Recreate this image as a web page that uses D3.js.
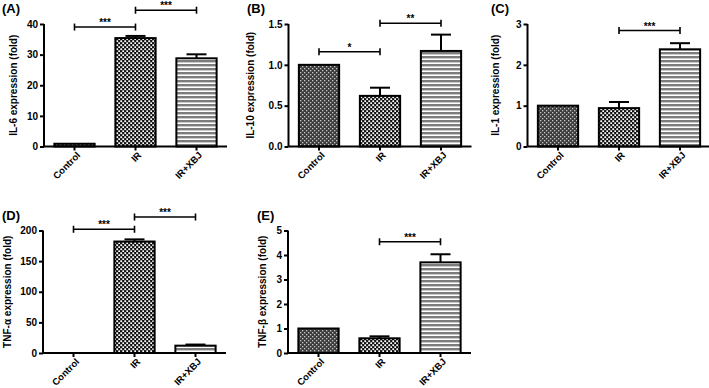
<!DOCTYPE html>
<html>
<head>
<meta charset="utf-8">
<script src="https://cdn.jsdelivr.net/npm/d3@7/dist/d3.min.js"></script>
<style>
  body { margin: 0; background: #fff; }
  text { font-family: "Liberation Sans", Arial, sans-serif; font-weight: bold; fill: #000; }
</style>
</head>
<body>
<script>
(function(){

//chart data
var groups = ["Control", "IR", "IR+XBJ"];
var panelLabels = ["(A)", "(B)", "(C)", "(D)", "(E)"];
var yTitles = ["IL-6 expression (fold)", "IL-10 expression (fold)", "IL-1 expression (fold)",
    "TNF-\u03b1 expression (fold)", "TNF-\u03b2 expression (fold)"];
var yMax = [40, 1.5, 3, 200, 5];
var yTicks = [[0, 10, 20, 30, 40], [0, 0.5, 1.0, 1.5], [0, 1, 2, 3], [0, 50, 100, 150, 200], [0, 1, 2, 3, 4, 5]];
var tickFormats = ["d", ".1f", "d", "d", "d"];
var means = [[0.9, 35.4, 28.8], [1.0, 0.62, 1.17], [1.0, 0.94, 2.38], [0, 182, 12], [1.0, 0.6, 3.7]];
var errs = [[0, 0.7, 1.3], [0, 0.1, 0.2], [0, 0.15, 0.15], [0, 3.5, 1.8], [0, 0.08, 0.33]];
//significance brackets: [from group, to group, height, stars]
var sigs = [
    [[0, 1, 39, "***"], [1, 2, 44.5, "***"]],
    [[0, 1, 1.16, "*"], [1, 2, 1.51, "**"]],
    [[1, 2, 2.84, "***"]],
    [[0, 1, 202, "***"], [1, 2, 222, "***"]],
    [[1, 2, 4.54, "***"]]
];

//layout of the five panels
var layout = [
    {x0: 44, y0: 146.5, lx: 2, ly: 13, tx: -31},
    {x0: 288.5, y0: 146.5, lx: 247, ly: 13, tx: -38},
    {x0: 527.5, y0: 146.5, lx: 491, ly: 13, tx: -32},
    {x0: 43, y0: 353, lx: 2, ly: 220, tx: -36},
    {x0: 288, y0: 353, lx: 257, ly: 220, tx: -26}
];
var plotW = 183, plotH = 122.5;

var svg = d3.select("body").append("svg")
    .attr("width", 709)
    .attr("height", 388);

//fill patterns for the three groups
var defs = svg.append("defs");

var pCtrl = defs.append("pattern").attr("id", "pCtrl")
    .attr("patternUnits", "userSpaceOnUse").attr("width", 4).attr("height", 4);
pCtrl.append("rect").attr("width", 4).attr("height", 4).attr("fill", "#3c3c3c");
pCtrl.append("rect").attr("x", 0).attr("y", 0).attr("width", 1.3).attr("height", 1.3).attr("fill", "#c8c8c8");
pCtrl.append("rect").attr("x", 2).attr("y", 2).attr("width", 1.3).attr("height", 1.3).attr("fill", "#c8c8c8");

var pIR = defs.append("pattern").attr("id", "pIR")
    .attr("patternUnits", "userSpaceOnUse").attr("width", 4).attr("height", 4);
pIR.append("rect").attr("width", 4).attr("height", 4).attr("fill", "#111");
pIR.append("rect").attr("x", 0.3).attr("y", 0.3).attr("width", 1.8).attr("height", 1.8).attr("fill", "#fff");
pIR.append("rect").attr("x", 2.3).attr("y", 2.3).attr("width", 1.8).attr("height", 1.8).attr("fill", "#fff");

var pXBJ = defs.append("pattern").attr("id", "pXBJ")
    .attr("patternUnits", "userSpaceOnUse").attr("width", 4).attr("height", 4);
pXBJ.append("rect").attr("width", 4).attr("height", 4).attr("fill", "#fff");
pXBJ.append("rect").attr("y", 0).attr("width", 4).attr("height", 2.4).attr("fill", "#7c7c7c");

var fills = ["url(#pCtrl)", "url(#pIR)", "url(#pXBJ)"];

layout.forEach(function(L, p){
    var g = svg.append("g");

    var x = d3.scaleBand()
        .domain(groups)
        .range([L.x0, L.x0 + plotW])
        .paddingInner(0.34)
        .paddingOuter(0.17);

    var y = d3.scaleLinear()
        .domain([0, yMax[p]])
        .range([L.y0, L.y0 - plotH]);

    //bars
    g.selectAll(".bar")
        .data(groups)
        .enter()
        .append("rect")
        .attr("class", "bar")
        .attr("x", function(d){ return x(d); })
        .attr("width", x.bandwidth())
        .attr("y", function(d, i){ return y(means[p][i]); })
        .attr("height", function(d, i){ return L.y0 - y(means[p][i]); })
        .attr("fill", function(d, i){ return fills[i]; })
        .attr("stroke", function(d, i){ return means[p][i] > 0 ? "#000" : "none"; })
        .attr("stroke-width", 2);

    //error bars (upper only)
    groups.forEach(function(d, i){
        if (errs[p][i] <= 0) return;
        var cx = x(d) + x.bandwidth() / 2;
        var top = y(means[p][i] + errs[p][i]);
        g.append("line")
            .attr("x1", cx).attr("x2", cx)
            .attr("y1", y(means[p][i])).attr("y2", top)
            .attr("stroke", "#000").attr("stroke-width", 2);
        g.append("line")
            .attr("x1", cx - 10).attr("x2", cx + 10)
            .attr("y1", top).attr("y2", top)
            .attr("stroke", "#000").attr("stroke-width", 2);
    });

    //y axis
    var yAxis = g.append("g")
        .attr("transform", "translate(" + L.x0 + ",0)")
        .call(d3.axisLeft(y)
            .tickValues(yTicks[p])
            .tickFormat(d3.format(tickFormats[p]))
            .tickSize(4)
            .tickPadding(2));
    yAxis.select(".domain").attr("stroke-width", 2).attr("d", "M0," + L.y0 + "V" + (L.y0 - plotH));
    yAxis.selectAll(".tick line").attr("stroke-width", 2);
    yAxis.selectAll(".tick text").style("font-size", "10px").style("font-family", "Liberation Sans, Arial").style("font-weight", "bold");

    //x axis
    var xAxis = g.append("g")
        .attr("transform", "translate(0," + L.y0 + ")")
        .call(d3.axisBottom(x).tickSize(4).tickFormat(""));
    xAxis.select(".domain").attr("stroke-width", 2).attr("d", "M" + L.x0 + ",0H" + (L.x0 + plotW));
    xAxis.selectAll(".tick line").attr("stroke-width", 2);

    //rotated category labels
    g.selectAll(".cat")
        .data(groups)
        .enter()
        .append("text")
        .attr("class", "cat")
        .attr("text-anchor", "end")
        .style("font-size", "9.5px")
        .attr("transform", function(d){
            return "translate(" + (x(d) + x.bandwidth() / 2 + 4) + "," + (L.y0 + 7) + ") rotate(-45)";
        })
        .attr("dy", "0.35em")
        .text(function(d){ return d; });

    //y axis title
    g.append("text")
        .attr("text-anchor", "middle")
        .style("font-size", "10px")
        .attr("transform", "translate(" + (L.x0 + L.tx) + "," + (L.y0 - plotH / 2) + ") rotate(-90)")
        .attr("dy", "0.35em")
        .text(yTitles[p]);

    //panel label
    g.append("text")
        .attr("x", L.lx)
        .attr("y", L.ly)
        .style("font-size", "13px")
        .text(panelLabels[p]);

    //significance brackets
    sigs[p].forEach(function(s){
        var xa = x(groups[s[0]]) + x.bandwidth() / 2,
            xb = x(groups[s[1]]) + x.bandwidth() / 2,
            yy = y(s[2]);
        g.append("line")
            .attr("x1", xa).attr("x2", xb).attr("y1", yy).attr("y2", yy)
            .attr("stroke", "#000").attr("stroke-width", 1.6);
        [xa, xb].forEach(function(xe){
            g.append("line")
                .attr("x1", xe).attr("x2", xe).attr("y1", yy - 3.5).attr("y2", yy + 3.5)
                .attr("stroke", "#000").attr("stroke-width", 1.6);
        });
        g.append("text")
            .attr("x", (xa + xb) / 2)
            .attr("y", yy - 1)
            .attr("text-anchor", "middle")
            .style("font-size", "10px")
            .text(s[3]);
    });
});

})();
</script>
</body>
</html>
